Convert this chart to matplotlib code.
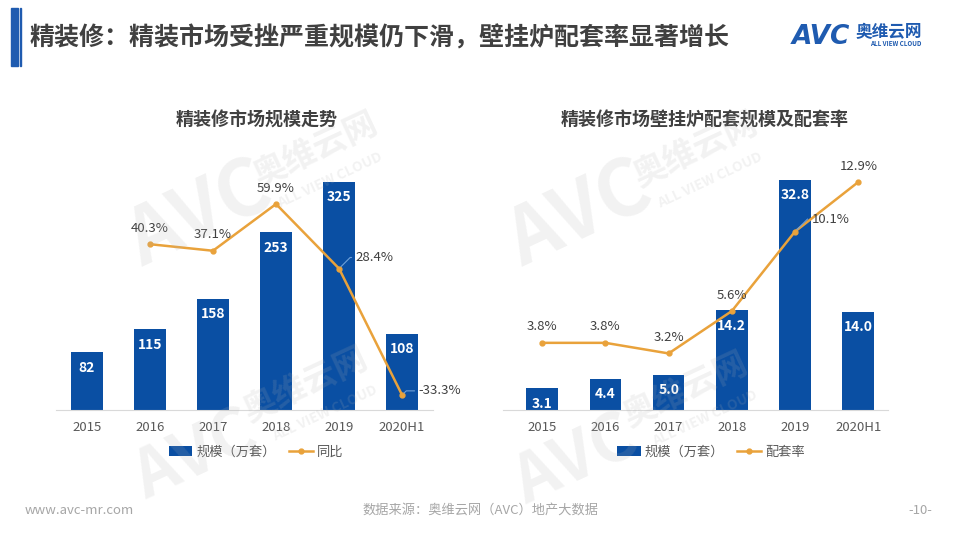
import matplotlib.pyplot as plt
from matplotlib.patches import Rectangle, Patch
from matplotlib.lines import Line2D

plt.rcParams['font.family'] = ['Noto Sans CJK SC', 'DejaVu Sans']

# data
years = ['2015', '2016', '2017', '2018', '2019', '2020H1']
market_size = [82, 115, 158, 253, 325, 108]
yoy = [None, 40.3, 37.1, 59.9, 28.4, -33.3]
boiler_size = [3.1, 4.4, 5.0, 14.2, 32.8, 14.0]
boiler_rate = [3.8, 3.8, 3.2, 5.6, 10.1, 12.9]

main_title = '精装修：精装市场受挫严重规模仍下滑，壁挂炉配套率显著增长'
left_title = '精装修市场规模走势'
right_title = '精装修市场壁挂炉配套规模及配套率'

BLUE = '#0A4FA3'
ORANGE = '#E9A23B'
DARK = '#404040'
GRAY = '#595959'
LEADER = '#6FA0D8'

fig = plt.figure(figsize=(9.6, 5.4), dpi=100)
W, H = 960, 540


def fx(px):
    return px / W


def fy(py):
    return 1 - py / H


def draw_panel(x0, x1, xlim, bars, bar_ymax, line, line_lim, title, title_x,
               line_label, legend_x, callouts):
    ax = fig.add_axes([fx(x0), fy(410), fx(x1 - x0), 240 / H])
    ax.set_facecolor('none')
    xs = list(range(len(years)))
    ax.bar(xs, bars, width=0.5, color=BLUE, zorder=2)
    ax.set_xlim(*xlim)
    ax.set_ylim(0, bar_ymax)
    for s in ['top', 'right', 'left']:
        ax.spines[s].set_visible(False)
    ax.spines['bottom'].set_color('#D9D9D9')
    ax.set_yticks([])
    ax.set_xticks(xs)
    ax.set_xticklabels(years, fontsize=9.5, color=GRAY)
    ax.tick_params(axis='x', length=0, pad=8)
    for x, v in zip(xs, bars):
        ax.annotate(f'{v:g}' if isinstance(v, int) else f'{v:.1f}', (x, v),
                    xytext=(0, -11), textcoords='offset points',
                    ha='center', va='center', color='white',
                    fontsize=10, fontweight='bold', zorder=4)

    ax2 = ax.twinx()
    ax2.set_ylim(*line_lim)
    ax2.axis('off')
    lx = [x for x, v in zip(xs, line) if v is not None]
    ly = [v for v in line if v is not None]
    ax2.plot(lx, ly, color=ORANGE, lw=1.8, marker='o', ms=3.5, zorder=3)
    for x, v in zip(lx, ly):
        if x in callouts:
            dx, dy = callouts[x]
            ax2.annotate(f'{v:.1f}%', (x, v), xytext=(dx, dy),
                         textcoords='offset points', ha='left', va='center',
                         fontsize=9.5, color=DARK,
                         arrowprops=dict(arrowstyle='-', color=LEADER, lw=0.8,
                                         shrinkA=1, shrinkB=2,
                                         connectionstyle='angle,angleA=0,angleB=45,rad=0'))
        else:
            ax2.annotate(f'{v:.1f}%', (x, v), xytext=(0, 11.5),
                         textcoords='offset points', ha='center', va='center',
                         fontsize=9.5, color=DARK)

    fig.text(fx(title_x), fy(120), title, ha='center', va='center',
             fontsize=13, fontweight='bold', color=DARK)

    handles = [Patch(facecolor=BLUE, edgecolor='none'),
               Line2D([], [], color=ORANGE, lw=1.8, marker='o', ms=3.5)]
    fig.legend(handles, ['规模（万套）', line_label], loc='center',
               bbox_to_anchor=(fx(legend_x), fy(452)), ncol=2, frameon=False,
               fontsize=9.5, labelcolor=GRAY, handlelength=1.8,
               handleheight=0.8, columnspacing=1.0, handletextpad=0.3)
    return ax


draw_panel(56, 433, (-0.49, 5.49), market_size, 342, yoy, (-40.6, 76.5),
           left_title, 257, '同比', 256, {4: (12, 8), 5: (12, 3)})
draw_panel(503, 888, (-0.62, 5.47), boiler_size, 34.2, boiler_rate, (0, 13.58),
           right_title, 705, '配套率', 711, {4: (12, 9)})

# header
fig.patches.append(Rectangle((fx(11), fy(66)), fx(7), 58 / H, transform=fig.transFigure,
                             color='#1F5BB0', zorder=5))
fig.patches.append(Rectangle((fx(19.5), fy(66)), fx(1.5), 58 / H, transform=fig.transFigure,
                             color='#1F5BB0', zorder=5))
fig.text(fx(30), fy(38), main_title, ha='left', va='center', fontsize=18,
         fontweight='bold', color=DARK)
fig.text(fx(792), fy(37), 'AVC', ha='left', va='center', fontsize=19,
         fontweight='bold', fontstyle='italic', color='#1F5BB0', family='DejaVu Sans')
fig.text(fx(856), fy(32), '奥维云网', ha='left', va='center', fontsize=12,
         fontweight='bold', color='#1F5BB0')
fig.text(fx(870), fy(44), 'ALL VIEW CLOUD', ha='left', va='center', fontsize=4.5,
         fontweight='bold', color='#1F5BB0')

# watermarks
wm = dict(color='#B0B0B0', alpha=0.16, fontweight='bold', rotation=25,
          ha='center', va='center', zorder=6)
for (x, y) in [(200, 215), (580, 215)]:
    fig.text(fx(x), fy(y), 'AVC', fontsize=56, fontstyle='italic', **wm)
    fig.text(fx(x + 115), fy(y - 65), '奥维云网', fontsize=24, **wm)
    fig.text(fx(x + 130), fy(y - 35), 'ALL VIEW CLOUD', fontsize=10, **wm)
for (x, y) in [(195, 455), (575, 460)]:
    fig.text(fx(x), fy(y), 'AVC', fontsize=48, fontstyle='italic', **wm)
    fig.text(fx(x + 110), fy(y - 70), '奥维云网', fontsize=24, **wm)
    fig.text(fx(x + 130), fy(y - 42), 'ALL VIEW CLOUD', fontsize=10, **wm)

# footer
fig.text(fx(25), fy(510), 'www.avc-mr.com', ha='left', va='center', fontsize=9.5, color='#A6A6A6')
fig.text(fx(480), fy(510), '数据来源：奥维云网（AVC）地产大数据', ha='center', va='center',
         fontsize=9.5, color='#A6A6A6')
fig.text(fx(932), fy(510), '-10-', ha='right', va='center', fontsize=9.5, color='#A6A6A6')

fig.savefig('out.png', dpi=100)
